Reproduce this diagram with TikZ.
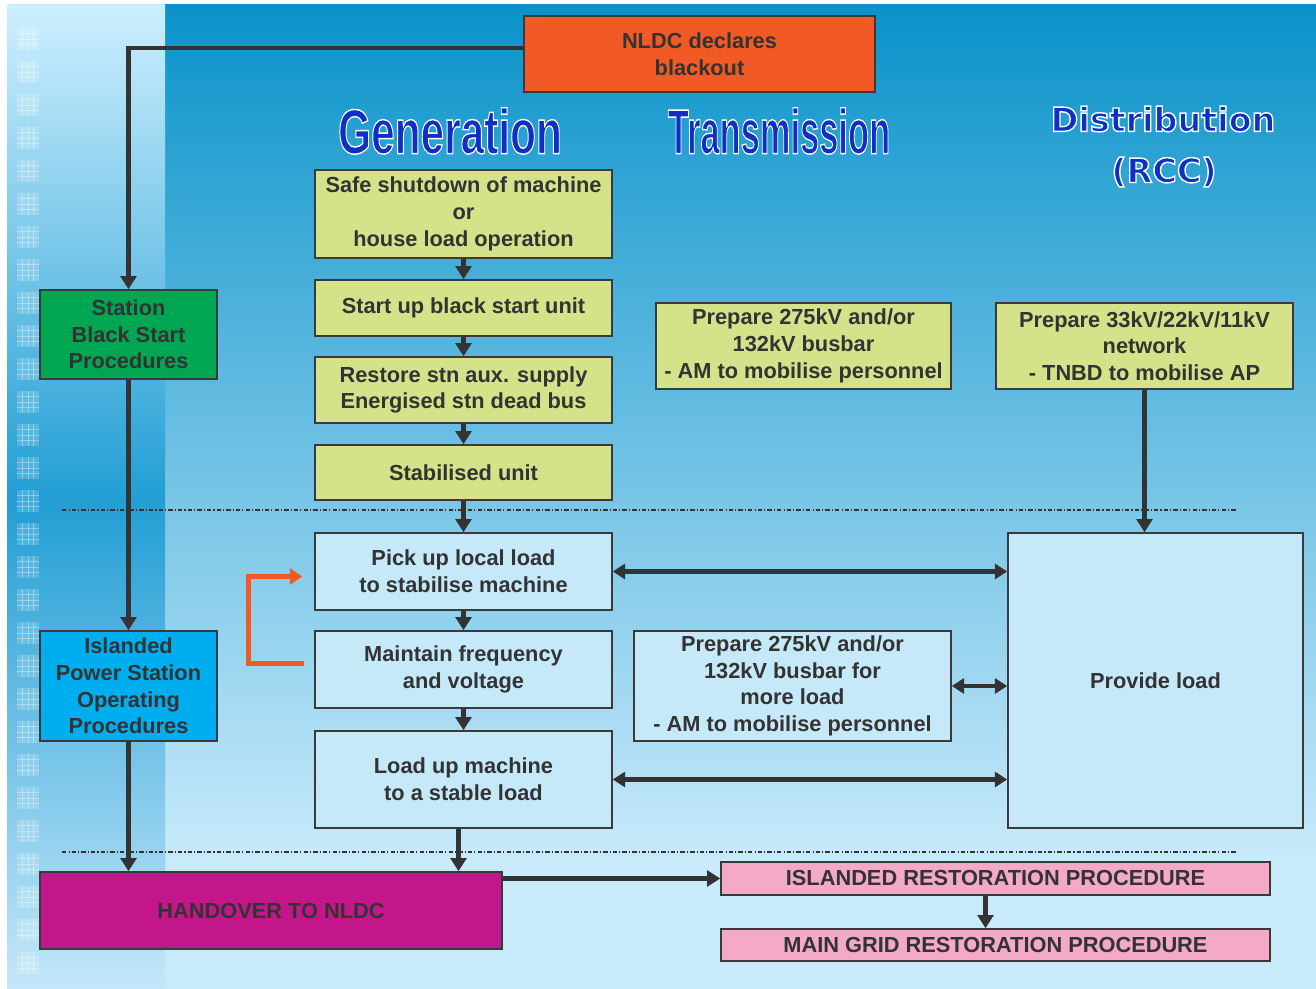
\documentclass[tikz,border=0pt]{standalone}
\usepackage{graphicx}
\usepackage{fontspec}
\setmainfont{Liberation Sans}
\newfontfamily\distfont{DejaVu Sans}
\usetikzlibrary{arrows.meta}

\definecolor{bgtop}{HTML}{0A93CA}
\definecolor{bgmid}{HTML}{84C2E6}
\definecolor{bgbot}{HTML}{C8EAFB}
\definecolor{striptop}{HTML}{CDEFFE}
\definecolor{stripmid}{HTML}{229ED4}
\definecolor{stripbot}{HTML}{C4E7FA}
\definecolor{boxlime}{HTML}{D4E38A}
\definecolor{boxsky}{HTML}{C6E9F9}
\definecolor{stngreen}{HTML}{00A651}
\definecolor{islcyan}{HTML}{00AEEF}
\definecolor{handmag}{HTML}{C4168B}
\definecolor{restpink}{HTML}{F5A9C9}
\definecolor{nldcred}{HTML}{F15A24}
\definecolor{edge}{HTML}{3A3A3A}
\definecolor{ink}{HTML}{333333}
\definecolor{titleblue}{HTML}{1030C4}

\newcommand{\rimtext}[1]{\special{pdf:literal direct 2 Tr 0.8 w 1 1 1 RG}#1\special{pdf:literal direct 0 Tr}}

\tikzset{
  box/.style={draw=edge, line width=0.9pt, text=ink, align=center, inner sep=2pt,
    font=\bfseries\fontsize{12.4}{15.2}\selectfont},
  genbox/.style={box, fill=boxlime},
  loadbox/.style={box, fill=boxsky},
  arr/.style={draw=ink, line width=2.3pt, -{Triangle[length=7.5pt,width=9pt]}},
  darr/.style={draw=ink, line width=2.3pt, {Triangle[length=7pt,width=8.5pt]}-{Triangle[length=7pt,width=8.5pt]}},
  fb/.style={draw=nldcred, line width=2.8pt, -{Triangle[length=7pt,width=9pt]}},
  sep/.style={draw=ink, line width=0.6pt, dash pattern=on 2.5pt off 1.2pt on 0.6pt off 1.2pt},
  sqfill/.style={fill=white, opacity=0.16},
  sqline/.style={draw=white, opacity=0.35, line width=0.4pt},
  heading/.style={text=titleblue, inner sep=0pt}
}

\begin{document}
\begin{tikzpicture}[x=0.02cm,y=-0.02cm]
\useasboundingbox (0,0) rectangle (1316,989);

% background
\fill[white] (0,0) rectangle (1316,989);
\shade[top color=bgtop, middle color=bgmid, bottom color=bgbot] (165,5) rectangle (1316,860);
\fill[bgbot] (165,860) rectangle (1316,989);
\shade[top color=striptop, bottom color=stripmid] (7,5) rectangle (165,500);
\shade[top color=stripmid, bottom color=stripbot] (7,500) rectangle (165,989);
\foreach \k in {0,...,28}
{
\pgfmathsetmacro\yy{28+33*\k}
\fill[sqfill] (17,\yy) rectangle ++(22,22);
\foreach \t in {5.5,11,16.5}
 {
 \draw[sqline] (17+\t,\yy) -- ++(0,22);
 \draw[sqline] (17,\yy+\t) -- ++(22,0);
 }
}

% headings
\node[heading] (gentitle) at (450,131)
{\scalebox{0.67}[1]{\fontsize{36}{36}\selectfont\bfseries\color{titleblue}\rimtext{Generation}}};
\node[heading] (trantitle) at (779,131)
{\scalebox{0.545}[1]{\fontsize{36}{36}\selectfont\bfseries\color{titleblue}\rimtext{Transmission}}};
\node[heading] (disttitle) at (1163,119)
{\distfont\bfseries\fontsize{19}{19}\selectfont\color{titleblue}\rimtext{Distribution}};
\node[heading] (rcctitle) at (1164,172)
{\distfont\bfseries\fontsize{19}{19}\selectfont\color{titleblue}\rimtext{(RCC)}};

% separators
\coordinate (sepa) at (62,510);
\coordinate (sepb) at (1237,510);
\coordinate (sepc) at (62,852);
\coordinate (sepd) at (1237,852);
\draw[sep] (sepa) -- (sepb);
\draw[sep] (sepc) -- (sepd);

% boxes
\node[box, fill=nldcred, minimum width=7.02cm, minimum height=1.52cm] (nldc) at (699.5,54)
{NLDC declares\\blackout};

\node[box, fill=stngreen, minimum width=3.54cm, minimum height=1.78cm] (stn) at (128.5,334.5)
{Station\\Black Start\\Procedures};
\node[box, fill=islcyan, minimum width=3.54cm, minimum height=2.2cm] (isl) at (128.5,686)
{Islanded\\Power Station\\Operating\\Procedures};
\node[box, fill=handmag, minimum width=9.24cm, minimum height=1.54cm] (hand) at (271,910.5)
{HANDOVER TO NLDC};

\node[genbox, minimum width=5.94cm, minimum height=1.76cm] (g1) at (463.5,214)
{Safe shutdown of machine\\or\\house load operation};
\node[genbox, minimum width=5.94cm, minimum height=1.12cm] (g2) at (463.5,308)
{Start up black start unit};
\node[genbox, minimum width=5.94cm, minimum height=1.32cm] (g3) at (463.5,390)
{Restore stn aux. supply\\Energised stn dead bus};
\node[genbox, minimum width=5.94cm, minimum height=1.10cm] (g4) at (463.5,472.5)
{Stabilised unit};
\node[loadbox, minimum width=5.94cm, minimum height=1.54cm] (g5) at (463.5,571.5)
{Pick up local load\\to stabilise machine};
\node[loadbox, minimum width=5.94cm, minimum height=1.54cm] (g6) at (463.5,669.5)
{Maintain frequency\\and voltage};
\node[loadbox, minimum width=5.94cm, minimum height=1.94cm] (g7) at (463.5,779.5)
{Load up machine\\to a stable load};

\node[genbox, minimum width=5.9cm, minimum height=1.72cm] (t1) at (803.5,346)
{Prepare 275kV and/or\\132kV busbar\\- AM to mobilise personnel};
\node[loadbox, minimum width=6.34cm, minimum height=2.2cm] (t2) at (792.5,686)
{Prepare 275kV and/or\\132kV busbar for\\more load\\- AM to mobilise personnel};

\node[genbox, minimum width=5.94cm, minimum height=1.72cm] (d1) at (1144.5,346)
{Prepare 33kV/22kV/11kV\\network\\- TNBD to mobilise AP};
\node[loadbox, minimum width=5.9cm, minimum height=5.9cm] (d2) at (1155.5,680.5)
{Provide load};

\node[box, fill=restpink, minimum width=10.98cm, minimum height=0.66cm] (irp) at (995.5,878.5)
{ISLANDED RESTORATION PROCEDURE};
\node[box, fill=restpink, minimum width=10.98cm, minimum height=0.64cm] (mgrp) at (995.5,945)
{MAIN GRID RESTORATION PROCEDURE};

% connectors
\draw[arr] ([yshift=0.12cm]nldc.west) -| (stn.north);
\draw[arr] (stn) -- (isl);
\draw[arr] (isl.south) -- (isl.south |- hand.north);
\foreach \a/\b in {g1/g2,g2/g3,g3/g4,g4/g5,g5/g6,g6/g7}
 \draw[arr] (\a) -- (\b);
\draw[arr] ([xshift=-0.1cm]g7.south) -- ([xshift=-0.1cm]g7.south |- hand.north);
\draw[arr] (irp.west -| hand.east) -- (irp.west);
\draw[arr] ([xshift=-0.2cm]irp.south) -- ([xshift=-0.2cm]mgrp.north);
\draw[arr] (d1.south) -- (d1.south |- d2.north);
\draw[darr] (g5.east) -- (g5.east -| d2.west);
\draw[darr] (t2.east) -- (t2.east -| d2.west);
\draw[darr] (g7.east) -- (g7.east -| d2.west);
\draw[fb] ([xshift=-0.2cm,yshift=0.12cm]g6.west) -- ++(-1.12cm,0) |- ([xshift=-0.24cm,yshift=-0.1cm]g5.west);
\end{tikzpicture}
\end{document}
